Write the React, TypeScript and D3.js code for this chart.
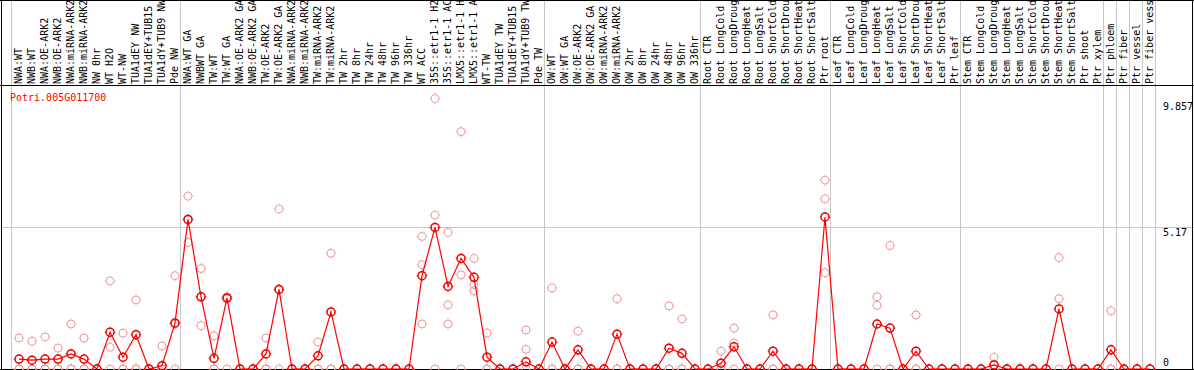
import React from "react";
import * as d3 from "d3";

const title = "Potri.005G011700";

const labels = [
  "NWA:WT", "NWB:WT", "NWA:OE-ARK2", "NWB:OE-ARK2", "NWA:miRNA-ARK2", "NWB:miRNA-ARK2",
  "NW 0hr", "WT H2O", "WT-NW", "TUA1dEY NW", "TUA1dEY+TUB15 NW", "TUA1dY+TUB9 NW", "Pde NW",
  "NWA:WT GA", "NWBWT GA", "TW:WT", "TW:WT GA", "NWA:OE-ARK2 GA", "NWB:OE-ARK2 GA",
  "TW:OE-ARK2", "TW:OE-ARK2 GA", "NWA:miRNA-ARK2 GA", "NWB:miRNA-ARK2 GA", "TW:miRNA-ARK2",
  "TW:miRNA-ARK2 GA", "TW 2hr", "TW 8hr", "TW 24hr", "TW 48hr", "TW 96hr", "TW 336hr",
  "WT ACC", "35S::etr1-1 H2O", "35S::etr1-1 ACC", "LMX5::etr1-1 H2O", "LMX5::etr1-1 ACC",
  "WT-TW", "TUA1dEY TW", "TUA1dEY+TUB15 TW", "TUA1dY+TUB9 TW", "Pde TW",
  "OW:WT", "OW:WT GA", "OW:OE-ARK2", "OW:OE-ARK2 GA", "OW:miRNA-ARK2", "OW:miRNA-ARK2 GA",
  "OW 2hr", "OW 8hr", "OW 24hr", "OW 48hr", "OW 96hr", "OW 336hr",
  "Root CTR", "Root LongCold", "Root LongDrought", "Root LongHeat", "Root LongSalt",
  "Root ShortCold", "Root ShortDrought", "Root ShortHeat", "Root ShortSalt", "Ptr root",
  "Leaf CTR", "Leaf LongCold", "Leaf LongDrought", "Leaf LongHeat", "Leaf LongSalt",
  "Leaf ShortCold", "Leaf ShortDrought", "Leaf ShortHeat", "Leaf ShortSalt", "Ptr leaf",
  "Stem CTR", "Stem LongCold", "Stem LongDrought", "Stem LongHeat", "Stem LongSalt",
  "Stem ShortCold", "Stem ShortDrought", "Stem ShortHeat", "Stem ShortSalt", "Ptr shoot",
  "Ptr xylem", "Ptr phloem", "Ptr fiber", "Ptr vessel", "Ptr fiber vessel",
];

const means = [
  0.36, 0.32, 0.36, 0.36, 0.55, 0.36, 0, 1.34, 0.43, 1.25, 0, 0.12, 1.68,
  5.45, 2.63, 0.39, 2.59, 0, 0, 0.55, 2.9, 0, 0, 0.48, 2.08, 0, 0, 0, 0, 0, 0,
  3.4, 5.16, 3.01, 4.03, 3.34, 0.43, 0, 0, 0.26, 0,
  0.98, 0, 0.7, 0, 0, 1.27, 0, 0, 0, 0.76, 0.57, 0,
  0, 0.21, 0.81, 0, 0, 0.65, 0, 0, 0, 5.54,
  0, 0, 0, 1.64, 1.49, 0, 0.65, 0, 0, 0,
  0, 0, 0.15, 0, 0, 0, 0, 2.19, 0, 0, 0,
  0.7, 0, 0, 0,
];

const rep1 = [
  1.13, 1.01, 1.17, 0.76, 1.64, 1.13, 0, 3.21, 1.31, 2.52, 0, 0.84, 3.4,
  6.3, 3.66, 1.21, 2.63, 0, 0, 1.13, 5.83, 0, 0, 0.98, 4.22, 0, 0, 0, 0, 0, 0,
  4.83, 9.857, 4.98, 8.65, 4.03, 1.31, 0, 0, 1.42, 0,
  2.96, 0, 1.38, 0, 0, 2.56, 0, 0, 0, 2.3, 1.82, 0,
  0, 0.65, 1.49, 0, 0, 1.97, 0, 0, 0, 6.88,
  0, 0, 0, 2.63, 4.5, 0, 1.97, 0, 0, 0,
  0, 0, 0.43, 0, 0, 0, 0, 4.06, 0, 0, 0,
  2.12, 0, 0, 0,
];

const rep2 = [
  0, 0, 0, 0, 0, 0, 0, 0.79, 0, 0, 0, 0, 1.64,
  4.61, 1.58, 0, 2.55, 0, 0, 0, 2.9, 0, 0, 0, 0, 0, 0, 0, 0, 0, 0,
  3.8, 5.61, 2.34, 3.43, 3.08, 0, 0, 0, 0.72, 0,
  0, 0, 0, 0, 0, 0, 0, 0, 0, 0, 0, 0,
  0, 0, 0.94, 0, 0, 0, 0, 0, 0, 6.2,
  0, 0, 0, 2.32, 0, 0, 0, 0, 0, 0,
  0, 0, 0, 0, 0, 0, 0, 2.56, 0, 0, 0,
  0, 0, 0, 0,
];

const rep3 = [
  0, 0, 0, 0, 0, 0, 0, 0, 0, 0, 0, 0, 0,
  5.44, 2.63, 0, 0, 0, 0, 0, 0, 0, 0, 0, 0, 0, 0, 0, 0, 0, 0,
  1.64, 0, 1.64, 0, 2.85, 0, 0, 0, 0, 0,
  0, 0, 0, 0, 0, 0, 0, 0, 0, 0, 0, 0,
  0, 0, 0, 0, 0, 0, 0, 0, 0, 3.51,
  0, 0, 0, 0, 0, 0, 0, 0, 0, 0,
  0, 0, 0, 0, 0, 0, 0, 0, 0, 0, 0,
  0, 0, 0, 0,
];

// column indices where a new group starts (vertical separators)
const groupBreaks = [0, 13, 41, 53, 63, 73, 84, 85, 86, 87, 88];
const yTicks = [0, 5.17, 9.857];
const yTickLabels = ["0", "5.17", "9.857"];

const W = 1194;
const H = 370;
const FONT = "'DejaVu Sans Mono', 'Liberation Mono', monospace";
const GRID = "#c8c8c8";
const DARK = "#ee0000";
const PALE = "#ee9a9a";

function Marker({ x, y, color, sw }: { x: number; y: number; color: string; sw: number }) {
  const r = 4;
  const t0 = r + 0.3;
  const t1 = r + 1.3;
  return (
    <g stroke={color} strokeWidth={sw} fill="none">
      <circle cx={x} cy={y} r={r} />
      <line x1={x} x2={x} y1={y - t0} y2={y - t1} strokeWidth={1} />
      <line x1={x} x2={x} y1={y + t0} y2={y + t1} strokeWidth={1} />
      <line x1={x - t0} x2={x - t1} y1={y} y2={y} strokeWidth={1} />
      <line x1={x + t0} x2={x + t1} y1={y} y2={y} strokeWidth={1} />
    </g>
  );
}

export default function App() {
  const n = labels.length;
  const xBand = d3.scaleBand<number>().domain(d3.range(n)).range([11, 11 + 13 * n]).padding(0);
  const bw = xBand.bandwidth();
  const cx = (i: number) => (xBand(i) as number) + 8;
  const boundary = (k: number) => 11 + bw * k;
  const y = d3.scaleLinear().domain([0, 9.857]).range([369, 98.5]);

  const line = d3
    .line<number>()
    .x((_, i) => cx(i))
    .y((v) => y(v));

  const reps = [rep1, rep2, rep3];
  const labelDy = [-3, 9, 11];

  return (
    <svg
      width={W}
      height={H}
      style={{ position: "absolute", left: 0, top: 0, display: "block", background: "#fff" }}
    >
      <rect x={0} y={0} width={W} height={H} fill="#fff" />
      {groupBreaks.map((k) => (
        <line key={"g" + k} x1={boundary(k) + 0.5} x2={boundary(k) + 0.5} y1={0} y2={369} stroke={GRID} strokeWidth={1} />
      ))}
      <line x1={1} x2={W} y1={Math.round(y(5.17)) + 0.5} y2={Math.round(y(5.17)) + 0.5} stroke={GRID} strokeWidth={1} />

      {labels.map((lab, i) => (
        <text
          key={"l" + i}
          transform={`translate(${cx(i) + 3},84) rotate(-90)`}
          fontFamily={FONT}
          fontSize={10}
          fill="#000"
        >
          {lab}
        </text>
      ))}

      <line x1={0} x2={W} y1={85.5} y2={85.5} stroke="#000" strokeWidth={1} />
      <line x1={0} x2={W} y1={0.5} y2={0.5} stroke="#000" strokeWidth={1} />
      <line x1={1.5} x2={1.5} y1={0} y2={370} stroke="#000" strokeWidth={1} />
      <line x1={1192.5} x2={1192.5} y1={0} y2={370} stroke="#000" strokeWidth={1} />
      <line x1={0} x2={W} y1={369.5} y2={369.5} stroke="#000" strokeWidth={1} />

      <text x={10} y={101} fontFamily={FONT} fontSize={10} fill="#ff0000">
        {title}
      </text>

      {yTicks.map((v, i) => (
        <text key={"t" + i} x={1163} y={y(v) + labelDy[i]} fontFamily={FONT} fontSize={10} fill="#000">
          {yTickLabels[i]}
        </text>
      ))}

      {reps.map((arr, r) =>
        arr.map((v, i) => <Marker key={"r" + r + "-" + i} x={cx(i)} y={y(v)} color={PALE} sw={1} />)
      )}

      <path d={line(means) || ""} fill="none" stroke="#ff0000" strokeWidth={1.2} />

      {means.map((v, i) => (
        <Marker key={"m" + i} x={cx(i)} y={y(v)} color={DARK} sw={1.5} />
      ))}
    </svg>
  );
}
